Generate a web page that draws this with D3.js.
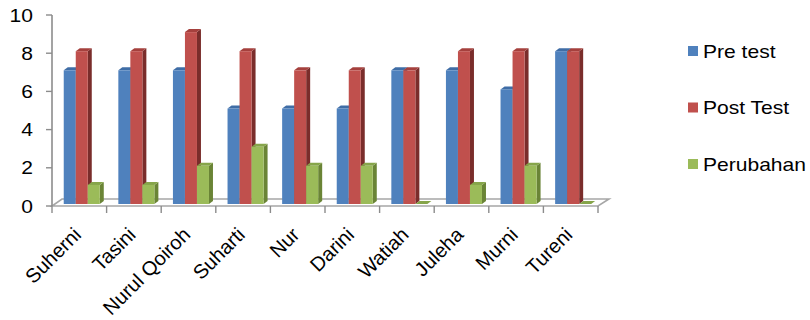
<!DOCTYPE html>
<html>
<head>
<meta charset="utf-8">
<script src="https://cdn.jsdelivr.net/npm/d3@7"></script>
<style>
  html, body { margin: 0; padding: 0; background: #ffffff; }
  svg { display: block; font-family: "Liberation Sans", Arial, sans-serif; }
</style>
</head>
<body>
<svg id="chart" width="810" height="320"></svg>
<script>
// Scores per student
const names = ["Suherni", "Tasini", "Nurul Qoiroh", "Suharti", "Nur", "Darini", "Watiah", "Juleha", "Murni", "Tureni"];
const preTest = [7, 7, 7, 5, 5, 5, 7, 7, 6, 8];
const postTest = [8, 8, 9, 8, 7, 7, 7, 8, 8, 8];
const perubahan = [1, 1, 2, 3, 2, 2, 0, 1, 2, 0];
const seriesNames = ["Pre test", "Post Test", "Perubahan"];
const yTicks = [0, 2, 4, 6, 8, 10];

const seriesValues = [preTest, postTest, perubahan];
const palette = [
  { front: "#4F81BD", top: "#3F6DA6", side: "#34587F" },
  { front: "#C0504D", top: "#A5403D", side: "#7A2D2B" },
  { front: "#9BBB59", top: "#86A54A", side: "#6A8436" }
];

const svg = d3.select("#chart");

const left = 52, right = 598;
const x0 = d3.scaleBand().domain(names).range([left, right]).paddingInner(0).paddingOuter(0);
const bw = x0.bandwidth();
const x1 = d3.scaleBand().domain(seriesNames).range([0.215 * bw, 0.875 * bw]).padding(0);
const y = d3.scaleLinear().domain([0, 10]).range([206, 15]);

// depth offsets for the 3D look
const floorDx = 11, floorDy = -7;
const barDx = 4, barDy = -3;

const axisColor = "#8C8C8C";
const tf = 1.17; // horizontal text stretch

// floor
const fy = y(0);
svg.append("path")
  .attr("d", `M${left},${fy} L${right},${fy} L${right + floorDx},${fy + floorDy} L${left + floorDx - 1},${fy + floorDy} Z`)
  .attr("fill", "#ffffff")
  .attr("stroke", "#A6A6A6")
  .attr("stroke-width", 1.6);

// vertical axis line with ticks
svg.append("line")
  .attr("x1", left).attr("x2", left)
  .attr("y1", y(10)).attr("y2", y(0))
  .attr("stroke", axisColor).attr("stroke-width", 1.6);

svg.selectAll(".ytick").data(yTicks).enter().append("line")
  .attr("x1", left - 6).attr("x2", left)
  .attr("y1", d => y(d)).attr("y2", d => y(d))
  .attr("stroke", axisColor).attr("stroke-width", 1.4);

svg.selectAll(".ylabel").data(yTicks).enter().append("text")
  .attr("transform", d => `translate(33,${y(d) + 6.5}) scale(${tf},1)`)
  .attr("text-anchor", "end")
  .attr("font-size", 18)
  .attr("fill", "#000")
  .text(d => d);

// category ticks along the front edge of the floor
const boundaries = names.map(n => x0(n)).concat([right]);
svg.selectAll(".xtick").data(boundaries).enter().append("line")
  .attr("x1", d => d).attr("x2", d => d)
  .attr("y1", fy).attr("y2", fy + 7)
  .attr("stroke", axisColor).attr("stroke-width", 1.4);

// bars
const barsG = svg.append("g").attr("transform", "translate(0,-2)");
const bars = [];
names.forEach((n, i) => {
  seriesNames.forEach((s, j) => {
    bars.push({ name: n, series: s, j, value: seriesValues[j][i] });
  });
});

const barW = x1.bandwidth();
const barG = barsG.selectAll(".bar").data(bars).enter().append("g").attr("class", "bar");

barG.append("path") // side face
  .attr("d", d => {
    const xr = x0(d.name) + x1(d.series) + barW;
    const yt = y(d.value), yb = y(0);
    return `M${xr},${yb} L${xr + barDx},${yb + barDy} L${xr + barDx},${yt + barDy} L${xr},${yt} Z`;
  })
  .attr("fill", d => palette[d.j].side);

barG.append("path") // top face
  .attr("d", d => {
    const xl = x0(d.name) + x1(d.series);
    const yt = y(d.value);
    return `M${xl},${yt} L${xl + barDx},${yt + barDy} L${xl + barW + barDx},${yt + barDy} L${xl + barW},${yt} Z`;
  })
  .attr("fill", d => palette[d.j].top);

barG.append("rect") // front face
  .attr("x", d => x0(d.name) + x1(d.series))
  .attr("y", d => y(d.value))
  .attr("width", barW)
  .attr("height", d => y(0) - y(d.value))
  .attr("fill", d => palette[d.j].front);

// category labels
svg.selectAll(".xlabel").data(names).enter().append("text")
  .attr("transform", d => `translate(${x0(d) + bw / 2 + 3},236) rotate(-45)`)
  .attr("text-anchor", "end")
  .attr("font-size", 20)
  .attr("fill", "#000")
  .text(d => d);

// legend
const legendY = d3.scalePoint().domain(seriesNames).range([51, 164]);
const lg = svg.selectAll(".legend").data(seriesNames).enter().append("g")
  .attr("transform", d => `translate(688,${legendY(d)})`);
lg.append("rect")
  .attr("x", 0).attr("y", -5).attr("width", 10).attr("height", 10)
  .attr("fill", (d, i) => palette[i].front);
lg.append("text")
  .attr("transform", `translate(15,6.5) scale(${tf},1)`)
  .attr("font-size", 18)
  .attr("fill", "#000")
  .text(d => d);
</script>
</body>
</html>
